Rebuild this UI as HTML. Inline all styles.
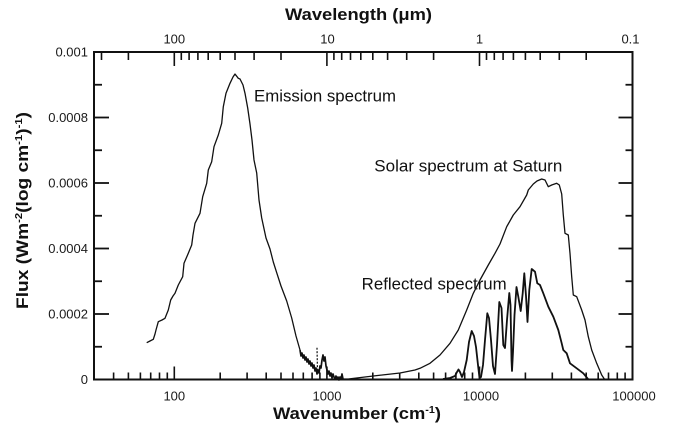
<!DOCTYPE html>
<html>
<head>
<meta charset="utf-8">
<style>
html,body{margin:0;padding:0;background:#fff;}
svg{display:block;}
text{font-family:"Liberation Sans",Arial,sans-serif;fill:#1a1a1a;}
.tl{font-size:13px;fill:#2a2a2a;}
.ann{font-size:16.5px;fill:#111;}
.ttl{font-size:17px;font-weight:bold;fill:#111;}
</style>
</head>
<body>
<svg width="675" height="436" viewBox="0 0 675 436" xmlns="http://www.w3.org/2000/svg">
<rect x="0" y="0" width="675" height="436" fill="#fff"/>

<!-- Frame -->
<rect x="94" y="52" width="538.5" height="327.5" fill="none" stroke="#111" stroke-width="2"/>

<!-- Left & right Y ticks -->
<g stroke="#111" stroke-width="1.8">
  <!-- major left -->
  <line x1="94" y1="314" x2="109" y2="314"/>
  <line x1="94" y1="248.5" x2="109" y2="248.5"/>
  <line x1="94" y1="183" x2="109" y2="183"/>
  <line x1="94" y1="117.5" x2="109" y2="117.5"/>
  <!-- minor left -->
  <line x1="94" y1="346.75" x2="102" y2="346.75"/>
  <line x1="94" y1="281.25" x2="102" y2="281.25"/>
  <line x1="94" y1="215.75" x2="102" y2="215.75"/>
  <line x1="94" y1="150.25" x2="102" y2="150.25"/>
  <line x1="94" y1="84.75" x2="102" y2="84.75"/>
  <!-- major right -->
  <line x1="618.5" y1="314" x2="632.5" y2="314"/>
  <line x1="618.5" y1="248.5" x2="632.5" y2="248.5"/>
  <line x1="618.5" y1="183" x2="632.5" y2="183"/>
  <line x1="618.5" y1="117.5" x2="632.5" y2="117.5"/>
  <!-- minor right -->
  <line x1="625.5" y1="346.75" x2="632.5" y2="346.75"/>
  <line x1="625.5" y1="281.25" x2="632.5" y2="281.25"/>
  <line x1="625.5" y1="215.75" x2="632.5" y2="215.75"/>
  <line x1="625.5" y1="150.25" x2="632.5" y2="150.25"/>
  <line x1="625.5" y1="84.75" x2="632.5" y2="84.75"/>
</g>

<!-- Bottom ticks -->
<g stroke="#111" stroke-width="1.6">
  <line x1="174.3" y1="379.5" x2="174.3" y2="366.5"/>
  <line x1="326.9" y1="379.5" x2="326.9" y2="366.5"/>
  <line x1="479.5" y1="379.5" x2="479.5" y2="366.5"/>
  <line x1="113.6" y1="379.5" x2="113.6" y2="372.5"/>
  <line x1="128.4" y1="379.5" x2="128.4" y2="372.5"/>
  <line x1="140.4" y1="379.5" x2="140.4" y2="372.5"/>
  <line x1="150.7" y1="379.5" x2="150.7" y2="372.5"/>
  <line x1="159.5" y1="379.5" x2="159.5" y2="372.5"/>
  <line x1="167.3" y1="379.5" x2="167.3" y2="372.5"/>
  <line x1="220.2" y1="379.5" x2="220.2" y2="372.5"/>
  <line x1="247.1" y1="379.5" x2="247.1" y2="372.5"/>
  <line x1="266.2" y1="379.5" x2="266.2" y2="372.5"/>
  <line x1="281.0" y1="379.5" x2="281.0" y2="372.5"/>
  <line x1="293.0" y1="379.5" x2="293.0" y2="372.5"/>
  <line x1="303.3" y1="379.5" x2="303.3" y2="372.5"/>
  <line x1="312.1" y1="379.5" x2="312.1" y2="372.5"/>
  <line x1="319.9" y1="379.5" x2="319.9" y2="372.5"/>
  <line x1="372.8" y1="379.5" x2="372.8" y2="372.5"/>
  <line x1="399.7" y1="379.5" x2="399.7" y2="372.5"/>
  <line x1="418.8" y1="379.5" x2="418.8" y2="372.5"/>
  <line x1="433.6" y1="379.5" x2="433.6" y2="372.5"/>
  <line x1="445.6" y1="379.5" x2="445.6" y2="372.5"/>
  <line x1="455.9" y1="379.5" x2="455.9" y2="372.5"/>
  <line x1="464.7" y1="379.5" x2="464.7" y2="372.5"/>
  <line x1="472.5" y1="379.5" x2="472.5" y2="372.5"/>
  <line x1="525.4" y1="379.5" x2="525.4" y2="372.5"/>
  <line x1="552.3" y1="379.5" x2="552.3" y2="372.5"/>
  <line x1="571.4" y1="379.5" x2="571.4" y2="372.5"/>
  <line x1="586.2" y1="379.5" x2="586.2" y2="372.5"/>
  <line x1="598.2" y1="379.5" x2="598.2" y2="372.5"/>
  <line x1="608.5" y1="379.5" x2="608.5" y2="372.5"/>
  <line x1="617.3" y1="379.5" x2="617.3" y2="372.5"/>
  <line x1="625.1" y1="379.5" x2="625.1" y2="372.5"/>
</g>

<!-- Top ticks -->
<g stroke="#111" stroke-width="1.6">
  <line x1="174.3" y1="52" x2="174.3" y2="66"/>
  <line x1="326.9" y1="52" x2="326.9" y2="66"/>
  <line x1="479.5" y1="52" x2="479.5" y2="66"/>
  <line x1="101.5" y1="52" x2="101.5" y2="60"/>
  <line x1="128.4" y1="52" x2="128.4" y2="60"/>
  <line x1="181.3" y1="52" x2="181.3" y2="60"/>
  <line x1="189.1" y1="52" x2="189.1" y2="60"/>
  <line x1="197.9" y1="52" x2="197.9" y2="60"/>
  <line x1="208.2" y1="52" x2="208.2" y2="60"/>
  <line x1="220.2" y1="52" x2="220.2" y2="60"/>
  <line x1="235.0" y1="52" x2="235.0" y2="60"/>
  <line x1="254.1" y1="52" x2="254.1" y2="60"/>
  <line x1="281.0" y1="52" x2="281.0" y2="60"/>
  <line x1="333.9" y1="52" x2="333.9" y2="60"/>
  <line x1="341.7" y1="52" x2="341.7" y2="60"/>
  <line x1="350.5" y1="52" x2="350.5" y2="60"/>
  <line x1="360.8" y1="52" x2="360.8" y2="60"/>
  <line x1="372.8" y1="52" x2="372.8" y2="60"/>
  <line x1="387.6" y1="52" x2="387.6" y2="60"/>
  <line x1="406.7" y1="52" x2="406.7" y2="60"/>
  <line x1="433.6" y1="52" x2="433.6" y2="60"/>
  <line x1="486.5" y1="52" x2="486.5" y2="60"/>
  <line x1="494.3" y1="52" x2="494.3" y2="60"/>
  <line x1="503.1" y1="52" x2="503.1" y2="60"/>
  <line x1="513.4" y1="52" x2="513.4" y2="60"/>
  <line x1="525.4" y1="52" x2="525.4" y2="60"/>
  <line x1="540.2" y1="52" x2="540.2" y2="60"/>
  <line x1="559.3" y1="52" x2="559.3" y2="60"/>
  <line x1="586.2" y1="52" x2="586.2" y2="60"/>
</g>

<!-- Tick labels -->
<g class="tl">
  <text x="88" y="56.5" text-anchor="end">0.001</text>
  <text x="88" y="122" text-anchor="end">0.0008</text>
  <text x="88" y="187.5" text-anchor="end">0.0006</text>
  <text x="88" y="253" text-anchor="end">0.0004</text>
  <text x="88" y="318.5" text-anchor="end">0.0002</text>
  <text x="88" y="384" text-anchor="end">0</text>

  <text x="174.3" y="400.5" text-anchor="middle">100</text>
  <text x="327" y="400.5" text-anchor="middle">1000</text>
  <text x="481" y="400.5" text-anchor="middle">10000</text>
  <text x="634" y="400.5" text-anchor="middle">100000</text>

  <text x="174.3" y="43.3" text-anchor="middle">100</text>
  <text x="327.5" y="43.3" text-anchor="middle">10</text>
  <text x="479.5" y="43.3" text-anchor="middle">1</text>
  <text x="630.5" y="43.3" text-anchor="middle">0.1</text>
</g>

<!-- Axis titles -->
<text class="ttl" x="285" y="20" textLength="147" lengthAdjust="spacingAndGlyphs">Wavelength (μm)</text>
<text class="ttl" x="273" y="419" textLength="168" lengthAdjust="spacingAndGlyphs">Wavenumber (cm<tspan font-size="10" dy="-6">-1</tspan><tspan dy="6">)</tspan></text>
<text class="ttl" transform="translate(28,309) rotate(-90)" textLength="197" lengthAdjust="spacingAndGlyphs">Flux (Wm<tspan font-size="10" dy="-6">-2</tspan><tspan dy="6">(log cm</tspan><tspan font-size="10" dy="-6">-1</tspan><tspan dy="6">)</tspan><tspan font-size="10" dy="-6">-1</tspan><tspan dy="6">)</tspan></text>

<!-- Annotations -->
<text class="ann" x="254" y="101.7" textLength="142" lengthAdjust="spacingAndGlyphs">Emission spectrum</text>
<text class="ann" x="374.3" y="171.5" textLength="188" lengthAdjust="spacingAndGlyphs">Solar spectrum at Saturn</text>
<text class="ann" x="361.7" y="289.5" textLength="145" lengthAdjust="spacingAndGlyphs">Reflected spectrum</text>

<!-- Emission spectrum -->
<polyline fill="none" stroke="#111" stroke-width="1.3" stroke-linejoin="round" points="
146.7,342.7 150,341 153.3,339.3 155,334 156,330 158.3,321.7 162,320 165,318.3 168.3,310 170.7,300 173,296 175,293.3 178.3,285 182.7,276.7 184,263.3 188.3,253.3 191.7,245 193,235 195,223.3 200,213.3 202.7,196.7 206.7,183.3 208.3,170 211.7,161.7 214,146.7 218.3,135 221.7,123.3 223.3,106.7 226,93.3 230,83.3 233,77 235,74 238.3,78.3 240,79 243,85 245,93.3 247.7,108 250,124 252,140 254,160 256.7,173 259,200 261.7,218 266,238 270,249 273.3,262 276.7,272.7 281,286 286.7,301 291.7,318 296,336 300,350"/>
<polyline fill="none" stroke="#111" stroke-width="1.7" stroke-linejoin="round" points="
300,350 301,356 302,353 303,358 304,355 305,360 306,357 307,362 308,359 309,364 310,361 311,366 312,363 313,368 314,365 315,371 316,368 317,374 318,370 319,373 320,366 321,368 322,360 323,355 324,361 325,357 326,366 327,370 328,374 329,371 330,376 331,373 332,378 333,374 334,377 335,379 336,376 337,379 338,377 339,380 340,377 341,379 342,374 343,379"/>
<line x1="317" y1="347.7" x2="317.5" y2="372" stroke="#111" stroke-width="1.2" stroke-dasharray="2,1.5"/>

<!-- Solar spectrum -->
<polyline fill="none" stroke="#111" stroke-width="1.3" stroke-linejoin="round" points="
343,379 348.3,379 373.3,376 400,373 415,370 420,368.3 430,363.3 440,355 450,343.3 458.3,330 466.7,310 473.3,293.3 480,280 488.3,265 495,253.3 500,244 506.7,226.7 513.3,215 520,206.7 526.7,195 528.3,190 533.3,184 537,181 541.7,179 545,180 548.3,186.7 551.7,185 556.7,183.3 559.3,185 561.7,194 563.3,215 565,233.3 568.3,235 570,253.3 571.7,276.7 573.3,295 576.7,296.7 581.7,310 585,320 588.3,336.7 591.7,350 596.7,363.3 601.7,375 605,380"/>

<!-- Reflected spectrum -->
<polyline fill="none" stroke="#111" stroke-width="1.8" stroke-linejoin="round" points="
443,379 450,378 455,376 457,372 458.5,369.5 460,372 462,377 464,372 466.7,360 469,342 471.7,331 474,336 476,347 478,365 479.5,378 481,377 483,365 485,340 487.3,313.3 489,318 491,340 493,366 495,374 497,345 499.3,302 501.5,308 503.3,345 505,348 507,320 509.3,293 510.5,305 511.5,360 512,371 513,352 514.5,315 516.5,287 518.3,296.7 520.7,311 522.7,293.3 524.3,273.3 526,296 527.5,322 529.3,290 531.7,269 535,271.7 537.3,283.3 540,285 543.3,293.3 548.3,306.7 553.3,316.7 558.3,330 561.7,343.3 563.3,350 566.7,353.3 570,363.3 576.7,368.3 583.3,373.3 588.3,379.3"/>
</svg>
</body>
</html>
